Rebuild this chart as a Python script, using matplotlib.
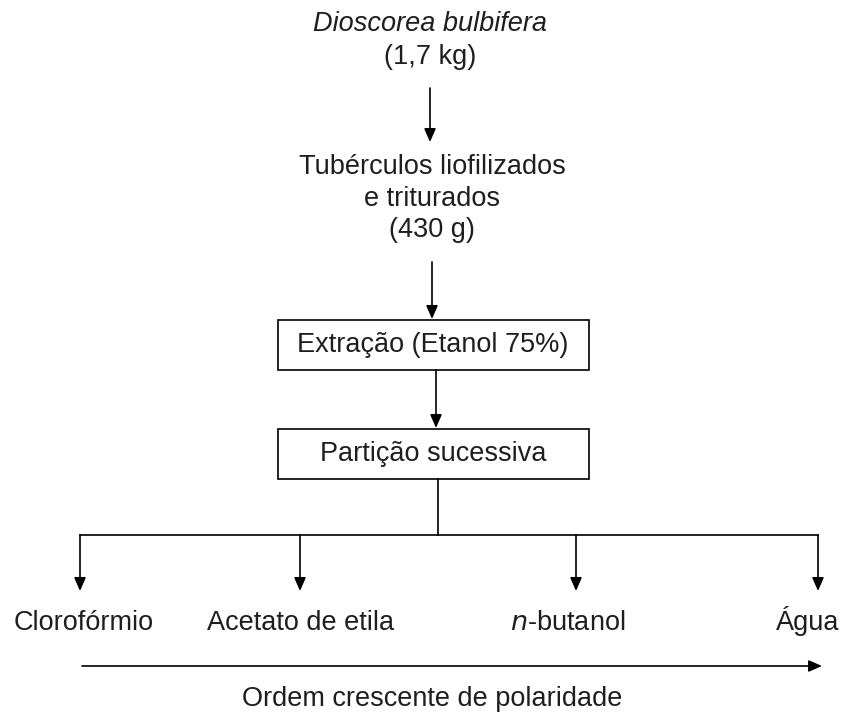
import matplotlib
matplotlib.use("Agg")
import matplotlib.pyplot as plt
from matplotlib.patches import Rectangle

# Content
title_species = "Dioscorea bulbifera"
title_mass = "(1,7 kg)"
step2_lines = ["Tubérculos liofilizados", "e triturados", "(430 g)"]
box_labels = ["Extração (Etanol 75%)", "Partição sucessiva"]
fractions = ["Clorofórmio", "Acetato de etila", "n-butanol", "Água"]
axis_label = "Ordem crescente de polaridade"

W, H = 845, 717
fig = plt.figure(figsize=(W / 100, H / 100), dpi=100)
ax = fig.add_axes([0, 0, 1, 1])
ax.set_xlim(0, W)
ax.set_ylim(H, 0)
ax.axis("off")

FONT = "Liberation Sans"
FS = 19.5
col = "#1e1e1e"

def arrow(x0, y0, x1, y1):
    ax.annotate("", xy=(x1, y1), xytext=(x0, y0),
                arrowprops=dict(arrowstyle="-|>,head_length=0.8,head_width=0.35",
                                color="black", lw=1.2, shrinkA=0, shrinkB=0))

def text(x, y, s, va="center", **kw):
    ax.text(x, y, s, ha="center", va=va, fontsize=FS, family=FONT,
            color=col, **kw)

text(430, 24, title_species, style="italic")
text(430, 57, title_mass)
arrow(430, 88, 430, 142)
for i, s in enumerate(step2_lines):
    text(432, 167 + i * 31.5, s)
arrow(432, 262, 432, 319)

# boxes
box_x0, box_x1 = 278, 589
for (y0, y1), lab in zip([(320, 370), (429, 479)], box_labels):
    ax.add_patch(Rectangle((box_x0, y0), box_x1 - box_x0, y1 - y0,
                           fill=False, edgecolor="black", lw=1.2))
    text(433, (y0 + y1) / 2, lab)
arrow(436, 370, 436, 428)

# branching
ax.plot([438, 438], [479, 535], color="black", lw=1.2)
xs = [80, 300, 576, 818]
ax.plot([xs[0], xs[-1]], [535, 535], color="black", lw=1.2)
for x in xs:
    arrow(x, 535, x, 591)

label_x = [84, 301, 568, 808]
for x, s in zip(label_x, fractions):
    if s.startswith("n-"):
        ax.text(x, 630, r"$\it{n}$" + "-butanol", ha="center", va="baseline",
                fontsize=FS, family=FONT, color=col)
    else:
        text(x, 630, s, va="baseline")

arrow(82, 666, 822, 666)
text(432, 699, axis_label)

fig.savefig("out.png", dpi=100, facecolor="white")
